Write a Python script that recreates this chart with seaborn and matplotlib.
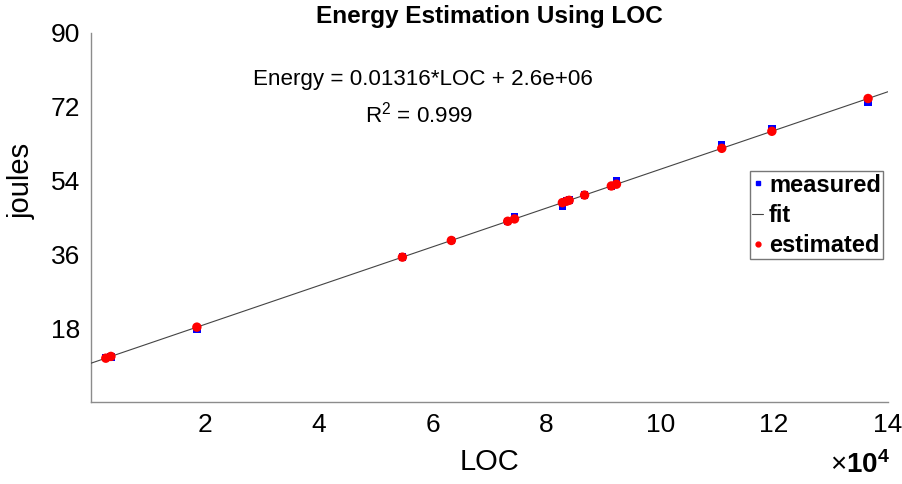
import numpy as np
import pandas as pd
import matplotlib
matplotlib.use("Agg")
import matplotlib.pyplot as plt
import seaborn as sns
from matplotlib.lines import Line2D

# Lines of code per program and the energy it used (joules)
loc = [2600, 3500, 18600, 54700, 63300, 73200, 74400, 82800, 83500, 84000,
       86700, 91400, 92300, 110800, 119600, 136500]
measured = [10.8, 11.0, 17.7, 35.4, 39.4, 44.0, 45.2, 47.8, 49.0, 49.3,
            50.5, 52.5, 54.1, 62.8, 66.7, 73.1]
estimated = [10.69, 11.12, 18.26, 35.33, 39.40, 44.08, 44.65, 48.62, 48.96, 49.19,
             50.47, 52.69, 53.12, 61.87, 66.03, 74.02]

x_ticks = [20000, 40000, 60000, 80000, 100000, 120000, 140000]
x_tick_labels = ["2", "4", "6", "8", "10", "12", "14"]
y_ticks = [18, 36, 54, 72, 90]

equation_text = "Energy = 0.01316*LOC + 2.6e+06"
r2_text = "R$^2$ = 0.999"

sns.set_style("white")
plt.rcParams["font.family"] = ["Liberation Sans", "DejaVu Sans"]
plt.rcParams["mathtext.fontset"] = "custom"
plt.rcParams["mathtext.rm"] = "Liberation Sans"
plt.rcParams["mathtext.bf"] = "Liberation Sans:bold"
plt.rcParams["text.color"] = "black"
plt.rcParams["axes.labelcolor"] = "black"

df = pd.DataFrame({"loc": loc, "measured": measured, "estimated": estimated})

# Least-squares line through the estimates, across the whole x range
slope, intercept = np.polyfit(df["loc"], df["estimated"], 1)
fit_df = pd.DataFrame({"loc": [0, 140000]})
fit_df["fit"] = intercept + slope * fit_df["loc"]

fig = plt.figure(figsize=(9.03, 4.84), dpi=100)
ax = fig.add_axes([91 / 903, 1 - 402 / 484, (888 - 91) / 903, (402 - 33) / 484])

sns.scatterplot(data=df, x="loc", y="measured", ax=ax, marker="s", s=28,
                color="#0000ff", edgecolor="none", zorder=2)
sns.lineplot(data=fit_df, x="loc", y="fit", ax=ax, color="#444444",
             linewidth=0.8, zorder=3)
sns.scatterplot(data=df, x="loc", y="estimated", ax=ax, marker="o", s=46,
                color="#ff0000", edgecolor="none", zorder=4)

ax.set_xlim(0, 140000)
ax.set_ylim(0, 90)
ax.set_xticks(x_ticks)
ax.set_xticklabels(x_tick_labels)
ax.set_yticks(y_ticks)

spine_color = "#8c8c8c"
for side in ["top", "right"]:
    ax.spines[side].set_visible(False)
for side in ["left", "bottom"]:
    ax.spines[side].set_color(spine_color)
    ax.spines[side].set_linewidth(1.0)
ax.tick_params(axis="both", direction="in", length=7, width=1,
               color=spine_color, labelsize=19, labelcolor="black", pad=8)

ax.set_xlabel("LOC", fontsize=21, labelpad=8)
ax.set_ylabel("joules", fontsize=21)
ax.yaxis.set_label_coords(-0.069, 0.6)
ax.set_title("Energy Estimation Using LOC", fontsize=17.6, fontweight="bold", pad=7)

ax.text(0.416, 0.875, equation_text, transform=ax.transAxes, ha="center",
        va="center", fontsize=16.1)
ax.text(0.412, 0.78, r2_text, transform=ax.transAxes, ha="center",
        va="center", fontsize=16.1)

fig.text(890 / 903, 1 - 465 / 484, "×$\\mathbf{10^4}$", ha="right",
         va="center", fontsize=20)

handles = [
    Line2D([], [], marker="s", color="#0000ff", linestyle="none", markersize=3),
    Line2D([], [], color="#444444", linewidth=0.8),
    Line2D([], [], marker="o", color="#ff0000", linestyle="none", markersize=3.5),
]
leg = ax.legend(handles, ["measured", "fit", "estimated"], loc="upper right",
                bbox_to_anchor=(0.994, 0.625), prop={"size": 17, "weight": "bold"},
                handlelength=0.45, handletextpad=0.25, labelspacing=0.3,
                borderpad=0.1, borderaxespad=0.0, frameon=True, fancybox=False)
leg.get_frame().set_edgecolor("#555555")
leg.get_frame().set_linewidth(1.0)

fig.savefig("out.png", dpi=100)
